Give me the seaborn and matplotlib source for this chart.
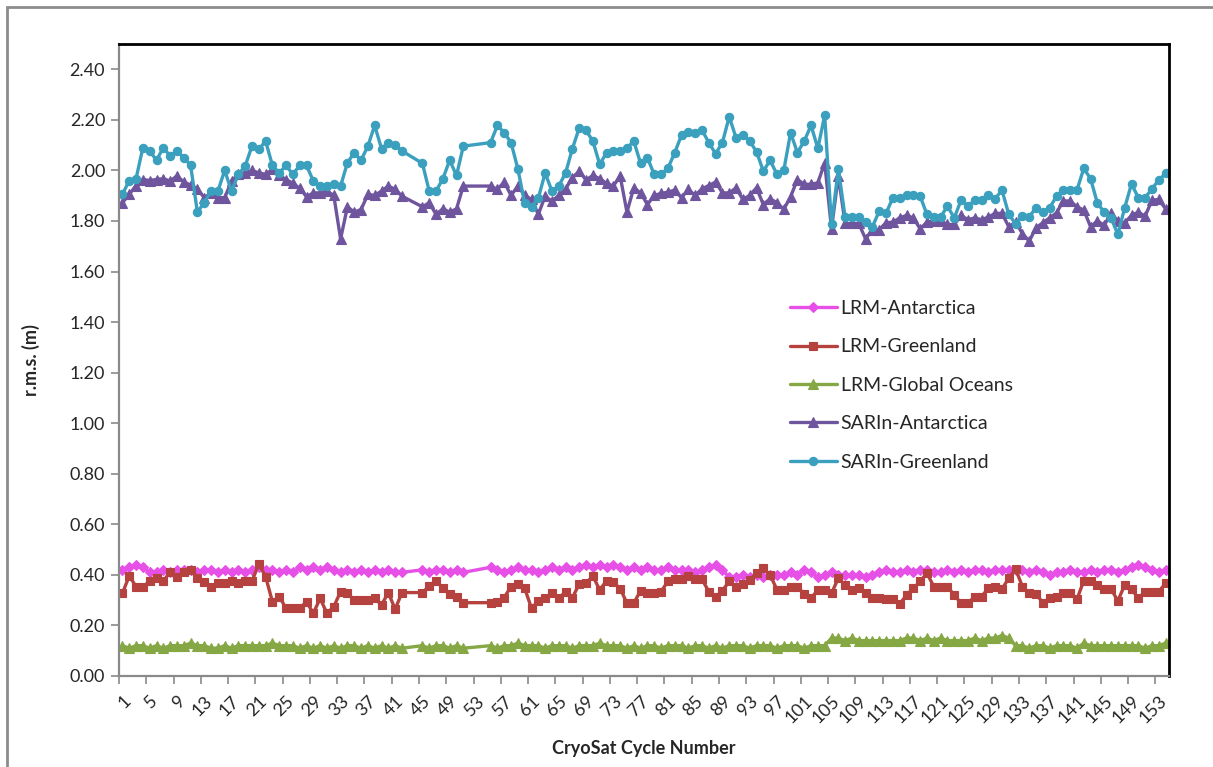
import numpy as np
import pandas as pd
import matplotlib
matplotlib.use("Agg")
import matplotlib.pyplot as plt
import seaborn as sns
from matplotlib.patches import Rectangle

nan = float("nan")

cycles = list(range(1, 155))
series_names = ["LRM-Antarctica", "LRM-Greenland", "LRM-Global Oceans",
                "SARIn-Antarctica", "SARIn-Greenland"]

lrm_antarctica = [
    0.42, 0.43, 0.44, 0.43, 0.41, 0.41, 0.42, 0.41, 0.42, 0.42,
    0.42, 0.41, 0.42, 0.42, 0.41, 0.42, 0.41, 0.42, 0.41, 0.42,
    0.43, 0.42, 0.42, 0.41, 0.42, 0.41, 0.43, 0.42, 0.43, 0.42,
    0.43, 0.42, 0.41, 0.42, 0.41, 0.42, 0.41, 0.42, 0.41, 0.42,
    0.41, 0.41, nan, nan, 0.42, 0.41, 0.42, 0.42, 0.41, 0.42,
    0.41, nan, nan, nan, 0.43, 0.42, 0.41, 0.42, 0.43, 0.42,
    0.42, 0.41, 0.42, 0.43, 0.42, 0.43, 0.42, 0.43, 0.44, 0.43,
    0.44, 0.43, 0.44, 0.43, 0.42, 0.43, 0.42, 0.43, 0.42, 0.42,
    0.43, 0.42, 0.42, 0.42, 0.41, 0.42, 0.43, 0.44, 0.42, 0.39,
    0.39, 0.40, 0.39, 0.40, 0.39, 0.40, 0.40, 0.40, 0.41, 0.40,
    0.42, 0.41, 0.39, 0.40, 0.41, 0.40, 0.40, 0.40, 0.40, 0.39,
    0.40, 0.41, 0.42, 0.41, 0.41, 0.42, 0.41, 0.42, 0.42, 0.41,
    0.41, 0.42, 0.41, 0.42, 0.41, 0.42, 0.42, 0.41, 0.42, 0.42,
    0.42, 0.42, 0.42, 0.41, 0.42, 0.41, 0.40, 0.41, 0.41, 0.42,
    0.41, 0.41, 0.42, 0.41, 0.42, 0.42, 0.41, 0.42, 0.43, 0.44,
    0.43, 0.42, 0.41, 0.42,
]

lrm_greenland = [
    0.327, 0.396, 0.354, 0.354, 0.374, 0.387, 0.374, 0.413, 0.393, 0.413,
    0.420, 0.387, 0.370, 0.354, 0.366, 0.366, 0.374, 0.366, 0.374, 0.374,
    0.444, 0.393, 0.294, 0.314, 0.268, 0.268, 0.268, 0.294, 0.248, 0.307,
    0.248, 0.274, 0.334, 0.327, 0.301, 0.301, 0.301, 0.307, 0.281, 0.330,
    0.264, 0.330, nan, nan, 0.330, 0.356, 0.377, 0.347, 0.323, 0.312,
    0.290, nan, nan, nan, 0.290, 0.294, 0.310, 0.354, 0.364, 0.347,
    0.268, 0.297, 0.307, 0.327, 0.307, 0.334, 0.310, 0.364, 0.367, 0.396,
    0.340, 0.377, 0.370, 0.346, 0.288, 0.288, 0.338, 0.327, 0.327, 0.334,
    0.374, 0.383, 0.383, 0.396, 0.383, 0.383, 0.334, 0.312, 0.338, 0.374,
    0.354, 0.364, 0.380, 0.407, 0.426, 0.400, 0.341, 0.341, 0.354, 0.354,
    0.324, 0.307, 0.341, 0.341, 0.327, 0.387, 0.360, 0.341, 0.347, 0.330,
    0.307, 0.310, 0.303, 0.303, 0.285, 0.320, 0.347, 0.374, 0.407, 0.354,
    0.354, 0.354, 0.320, 0.288, 0.288, 0.314, 0.314, 0.347, 0.354, 0.344,
    0.387, 0.423, 0.354, 0.327, 0.324, 0.290, 0.307, 0.314, 0.327, 0.327,
    0.303, 0.377, 0.374, 0.360, 0.344, 0.344, 0.297, 0.360, 0.344, 0.307,
    0.334, 0.334, 0.334, 0.367,
]

lrm_global_oceans = [
    0.12, 0.11, 0.12, 0.12, 0.11, 0.12, 0.11, 0.12, 0.12, 0.12,
    0.13, 0.12, 0.12, 0.11, 0.11, 0.12, 0.11, 0.12, 0.12, 0.12,
    0.12, 0.12, 0.13, 0.12, 0.12, 0.12, 0.11, 0.12, 0.11, 0.12,
    0.11, 0.12, 0.11, 0.12, 0.12, 0.11, 0.12, 0.11, 0.12, 0.11,
    0.12, 0.11, nan, nan, 0.12, 0.11, 0.12, 0.12, 0.11, 0.12,
    0.11, nan, nan, nan, 0.12, 0.11, 0.12, 0.12, 0.13, 0.12,
    0.12, 0.12, 0.11, 0.12, 0.12, 0.12, 0.11, 0.12, 0.12, 0.12,
    0.13, 0.12, 0.12, 0.12, 0.11, 0.12, 0.11, 0.12, 0.12, 0.11,
    0.12, 0.12, 0.12, 0.11, 0.12, 0.12, 0.11, 0.12, 0.11, 0.12,
    0.12, 0.12, 0.11, 0.12, 0.12, 0.12, 0.11, 0.12, 0.12, 0.12,
    0.11, 0.12, 0.12, 0.12, 0.15, 0.15, 0.14, 0.15, 0.14, 0.14,
    0.14, 0.14, 0.14, 0.14, 0.14, 0.15, 0.15, 0.14, 0.15, 0.14,
    0.15, 0.14, 0.14, 0.14, 0.14, 0.15, 0.14, 0.15, 0.15, 0.16,
    0.15, 0.12, 0.12, 0.11, 0.12, 0.12, 0.11, 0.12, 0.12, 0.12,
    0.11, 0.13, 0.12, 0.12, 0.12, 0.12, 0.12, 0.12, 0.12, 0.12,
    0.11, 0.12, 0.12, 0.13,
]

sarin_antarctica = [
    1.872, 1.905, 1.940, 1.964, 1.960, 1.964, 1.967, 1.958, 1.978, 1.954,
    1.942, 1.927, 1.892, 1.911, 1.892, 1.892, 1.958, 1.984, 1.990, 2.000,
    1.990, 1.984, 2.004, 1.980, 1.964, 1.949, 1.929, 1.896, 1.911, 1.911,
    1.918, 1.901, 1.729, 1.856, 1.835, 1.845, 1.905, 1.901, 1.918, 1.938,
    1.925, 1.898, nan, nan, 1.856, 1.872, 1.826, 1.848, 1.835, 1.848,
    1.938, nan, nan, nan, 1.938, 1.925, 1.954, 1.901, 1.938, 1.901,
    1.885, 1.826, 1.898, 1.878, 1.901, 1.927, 1.971, 1.997, 1.962, 1.980,
    1.967, 1.949, 1.938, 1.978, 1.835, 1.931, 1.911, 1.865, 1.901, 1.909,
    1.914, 1.922, 1.892, 1.925, 1.901, 1.927, 1.940, 1.954, 1.911, 1.911,
    1.931, 1.885, 1.901, 1.931, 1.865, 1.888, 1.872, 1.846, 1.896, 1.964,
    1.945, 1.945, 1.951, 2.030, 1.769, 1.978, 1.790, 1.790, 1.790, 1.729,
    1.766, 1.766, 1.793, 1.795, 1.812, 1.822, 1.812, 1.769, 1.795, 1.800,
    1.800, 1.786, 1.786, 1.822, 1.805, 1.812, 1.805, 1.815, 1.830, 1.830,
    1.777, 1.795, 1.750, 1.720, 1.773, 1.793, 1.812, 1.832, 1.879, 1.879,
    1.856, 1.843, 1.777, 1.800, 1.783, 1.830, 1.800, 1.793, 1.822, 1.835,
    1.819, 1.882, 1.885, 1.848,
]

sarin_greenland = [
    1.905, 1.960, 1.967, 2.090, 2.077, 2.040, 2.090, 2.057, 2.077, 2.050,
    2.020, 1.835, 1.872, 1.920, 1.918, 2.000, 1.918, 1.984, 2.017, 2.096,
    2.083, 2.116, 2.020, 1.990, 2.020, 1.984, 2.020, 2.020, 1.958, 1.938,
    1.938, 1.947, 1.938, 2.030, 2.070, 2.040, 2.096, 2.178, 2.086, 2.110,
    2.099, 2.077, nan, nan, 2.028, 1.918, 1.918, 1.967, 2.040, 1.980,
    2.096, nan, nan, nan, 2.110, 2.178, 2.149, 2.110, 2.006, 1.870,
    1.856, 1.890, 1.990, 1.918, 1.938, 1.990, 2.086, 2.168, 2.158, 2.116,
    2.024, 2.070, 2.077, 2.077, 2.088, 2.116, 2.028, 2.050, 1.984, 1.984,
    2.008, 2.070, 2.139, 2.152, 2.149, 2.160, 2.110, 2.066, 2.110, 2.212,
    2.129, 2.140, 2.116, 2.074, 1.997, 2.040, 1.984, 2.000, 2.149, 2.070,
    2.116, 2.178, 2.087, 2.218, 1.786, 2.006, 1.815, 1.815, 1.815, 1.795,
    1.777, 1.839, 1.830, 1.892, 1.889, 1.901, 1.901, 1.898, 1.826, 1.815,
    1.815, 1.859, 1.812, 1.882, 1.859, 1.881, 1.881, 1.901, 1.888, 1.922,
    1.826, 1.789, 1.819, 1.817, 1.852, 1.835, 1.852, 1.898, 1.922, 1.922,
    1.922, 2.008, 1.967, 1.870, 1.835, 1.812, 1.747, 1.852, 1.947, 1.892,
    1.892, 1.927, 1.962, 1.988,
]

colors = ["#E650E6", "#B5423E", "#86A844", "#6F559E", "#3AA0BE"]
markers = ["D", "s", "^", "^", "o"]
marker_sizes = [5.5, 5.5, 7, 7, 6]

y_ticks = [0.0, 0.2, 0.4, 0.6, 0.8, 1.0, 1.2, 1.4, 1.6, 1.8, 2.0, 2.2, 2.4]

frames = []
for name, vals in zip(series_names,
                      [lrm_antarctica, lrm_greenland, lrm_global_oceans,
                       sarin_antarctica, sarin_greenland]):
    frames.append(pd.DataFrame({"cycle": cycles, "rms": vals, "series": name}))
df = pd.concat(frames, ignore_index=True).dropna()

sns.set_style("white")
plt.rcParams["font.family"] = ["Lato", "DejaVu Sans"]

fig = plt.figure(figsize=(12.13, 7.67), dpi=100)
ax = fig.add_axes([119 / 1213, 1 - 676 / 767, 1050 / 1213, 632 / 767])

for name, col, mk, ms in zip(series_names, colors, markers, marker_sizes):
    sub = df[df["series"] == name]
    sns.lineplot(data=sub, x="cycle", y="rms", ax=ax, color=col, marker=mk,
                 markersize=ms, markeredgecolor=col, markeredgewidth=0.8,
                 linewidth=2.4, label=name, estimator=None, sort=True)

ax.set_xlim(0.5, 154.5)
ax.set_ylim(0, 2.5)
ax.set_yticks(y_ticks)
ax.set_yticklabels([f"{v:.2f}" for v in y_ticks], fontsize=13)

# tick marks on category boundaries, labels on every fourth cycle
boundaries = np.arange(0.5, 154, 4)
ax.set_xticks(boundaries)
ax.set_xticklabels([])
label_pos = cycles[::4]
ax.set_xticks(label_pos, minor=True)
ax.set_xticklabels([str(c) for c in label_pos], minor=True, rotation=45,
                   ha="right", va="top", rotation_mode="anchor", fontsize=13)
ax.tick_params(axis="x", which="major", length=6, width=1.2, color="#8a8a8a",
               direction="out", bottom=True)
ax.tick_params(axis="x", which="minor", length=0, pad=12)
ax.tick_params(axis="y", length=6, width=1.2, color="#8a8a8a",
               direction="out", left=True, pad=4)

for side in ["left", "bottom"]:
    ax.spines[side].set_color("#8a8a8a")
    ax.spines[side].set_linewidth(1.6)
for side in ["top", "right"]:
    ax.spines[side].set_color("black")
    ax.spines[side].set_linewidth(2.0)

ax.set_xlabel("CryoSat Cycle Number", fontsize=13, fontweight="bold",
              labelpad=10)
ax.set_ylabel("r.m.s. (m)", fontsize=13, fontweight="bold", labelpad=21)

handles, labels = ax.get_legend_handles_labels()
ax.legend(handles, labels, loc="upper left",
          bbox_to_anchor=((790 - 119) / 1050, (676 - 300) / 632),
          frameon=False, fontsize=14, handlelength=2.4, handletextpad=0.2,
          labelspacing=1.1, borderaxespad=0, borderpad=0)

# outer chart border
fig.patches.append(Rectangle((7 / 1213, -0.05), 1.2, 1 - 7 / 767 + 0.05,
                             transform=fig.transFigure, fill=False,
                             edgecolor="#8c8c8c", linewidth=2.0))

fig.savefig("out.png", dpi=100)
